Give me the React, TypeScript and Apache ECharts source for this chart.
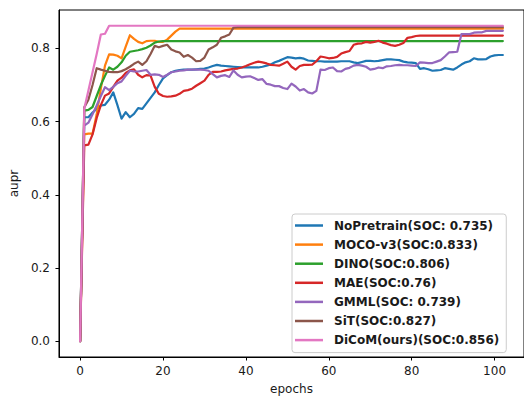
import React, { useEffect, useRef } from "react";
import * as echarts from "echarts";

const seriesNames = [
  "NoPretrain(SOC: 0.735)",
  "MOCO-v3(SOC:0.833)",
  "DINO(SOC:0.806)",
  "MAE(SOC:0.76)",
  "GMML(SOC: 0.739)",
  "SiT(SOC:0.827)",
  "DiCoM(ours)(SOC:0.856)",
];

const colors = ["#1f77b4", "#ff7f0e", "#2ca02c", "#d62728", "#9467bd", "#8c564b", "#e377c2"];

const xTicks = [0, 20, 40, 60, 80, 100];
const yTicks = [0, 0.2, 0.4, 0.6, 0.8];

const noPretrain = [
  0, 0.612, 0.612, 0.625, 0.635, 0.644, 0.646, 0.66, 0.68, 0.645,
  0.608, 0.626, 0.612, 0.621, 0.637, 0.635, 0.65, 0.665, 0.68, 0.7,
  0.718, 0.727, 0.735, 0.739, 0.741, 0.742, 0.742, 0.742, 0.743, 0.744,
  0.745, 0.748, 0.752, 0.755, 0.753, 0.752, 0.751, 0.75, 0.749, 0.748,
  0.748, 0.748, 0.748, 0.748, 0.75, 0.753, 0.756, 0.762, 0.766, 0.771,
  0.776, 0.775, 0.773, 0.774, 0.772, 0.767, 0.766, 0.765, 0.765, 0.764,
  0.764, 0.764, 0.764, 0.765, 0.765, 0.765, 0.762, 0.76, 0.763, 0.766,
  0.766, 0.765, 0.766, 0.768, 0.77, 0.77, 0.769, 0.768, 0.764, 0.762,
  0.761, 0.76, 0.744, 0.746, 0.743, 0.739, 0.74, 0.741, 0.746, 0.744,
  0.742, 0.748, 0.756, 0.762, 0.765, 0.773, 0.77, 0.77, 0.771, 0.778,
  0.781, 0.782, 0.782,
];

const mocoV3 = [
  0, 0.565, 0.567, 0.567, 0.62, 0.69, 0.753, 0.784, 0.783, 0.78,
  0.773, 0.805, 0.836, 0.826, 0.818, 0.814, 0.82, 0.821, 0.821, 0.818,
  0.818, 0.824, 0.835, 0.846, 0.854, 0.854, 0.854, 0.854, 0.854, 0.854,
  0.854, 0.854, 0.854, 0.854, 0.854, 0.854, 0.854, 0.854, 0.854, 0.854,
  0.854, 0.854, 0.854, 0.854, 0.854, 0.854, 0.854, 0.854, 0.854, 0.854,
  0.854, 0.854, 0.854, 0.854, 0.854, 0.854, 0.854, 0.854, 0.854, 0.854,
  0.854, 0.854, 0.854, 0.854, 0.854, 0.854, 0.854, 0.854, 0.854, 0.854,
  0.854, 0.854, 0.854, 0.854, 0.854, 0.854, 0.854, 0.854, 0.854, 0.854,
  0.854, 0.854, 0.854, 0.854, 0.854, 0.854, 0.854, 0.854, 0.854, 0.854,
  0.854, 0.854, 0.854, 0.854, 0.854, 0.854, 0.854, 0.854, 0.854, 0.854,
  0.854, 0.854, 0.854,
];

const dino = [
  0, 0.63, 0.632, 0.64, 0.67, 0.7, 0.725, 0.748, 0.742, 0.75,
  0.762, 0.78, 0.791, 0.793, 0.795, 0.798, 0.802, 0.808, 0.816, 0.819,
  0.82, 0.82, 0.82, 0.82, 0.82, 0.82, 0.82, 0.82, 0.82, 0.82,
  0.82, 0.82, 0.82, 0.82, 0.82, 0.82, 0.82, 0.82, 0.82, 0.82,
  0.82, 0.82, 0.82, 0.82, 0.82, 0.82, 0.82, 0.82, 0.82, 0.82,
  0.82, 0.82, 0.82, 0.82, 0.82, 0.82, 0.82, 0.82, 0.82, 0.82,
  0.82, 0.82, 0.82, 0.82, 0.82, 0.82, 0.82, 0.82, 0.82, 0.82,
  0.82, 0.82, 0.82, 0.82, 0.82, 0.82, 0.82, 0.82, 0.82, 0.82,
  0.82, 0.82, 0.82, 0.82, 0.82, 0.82, 0.82, 0.82, 0.82, 0.82,
  0.82, 0.82, 0.82, 0.82, 0.82, 0.82, 0.82, 0.82, 0.82, 0.82,
  0.82, 0.82, 0.82,
];

const mae = [
  0, 0.535, 0.537, 0.565, 0.61, 0.645, 0.671, 0.677, 0.695, 0.712,
  0.72, 0.733, 0.74, 0.743, 0.728, 0.721, 0.727, 0.726, 0.695, 0.676,
  0.67, 0.668, 0.669, 0.671, 0.676, 0.684, 0.686, 0.69, 0.698, 0.705,
  0.712, 0.728, 0.736, 0.736, 0.737, 0.74, 0.742, 0.744, 0.745, 0.748,
  0.752, 0.757, 0.761, 0.764, 0.762, 0.759, 0.755, 0.754, 0.753, 0.758,
  0.764, 0.75, 0.742, 0.752, 0.755, 0.755, 0.756, 0.765, 0.778, 0.776,
  0.773, 0.774, 0.777, 0.786, 0.79, 0.793, 0.81, 0.813, 0.814, 0.818,
  0.816, 0.818, 0.821, 0.816, 0.813, 0.809, 0.807, 0.81, 0.815, 0.829,
  0.831, 0.834, 0.835, 0.835, 0.835, 0.835, 0.835, 0.835, 0.835, 0.835,
  0.835, 0.835, 0.835, 0.835, 0.835, 0.835, 0.835, 0.835, 0.835, 0.835,
  0.835, 0.835, 0.835,
];

const gmml = [
  0, 0.589, 0.597, 0.62, 0.644, 0.67, 0.694, 0.686, 0.695, 0.705,
  0.71, 0.725, 0.739, 0.737, 0.737, 0.739, 0.741, 0.728, 0.729, 0.728,
  0.722, 0.728, 0.735, 0.737, 0.739, 0.74, 0.742, 0.742, 0.742, 0.742,
  0.741, 0.739, 0.73, 0.721, 0.725, 0.727, 0.722, 0.74, 0.728, 0.721,
  0.723, 0.724, 0.719, 0.714, 0.716, 0.703, 0.701, 0.697, 0.697, 0.692,
  0.689, 0.704, 0.696, 0.685, 0.689, 0.68, 0.677, 0.684, 0.742, 0.741,
  0.746, 0.748, 0.738, 0.737, 0.744, 0.747, 0.753, 0.755, 0.753, 0.75,
  0.742, 0.744, 0.748, 0.746, 0.751, 0.752, 0.754, 0.755, 0.754, 0.754,
  0.753, 0.752, 0.762, 0.761, 0.76, 0.76, 0.764, 0.768, 0.778, 0.789,
  0.79, 0.791, 0.839, 0.839, 0.839, 0.843, 0.844, 0.844, 0.848, 0.848,
  0.848, 0.848, 0.848,
];

const sit = [
  0, 0.639, 0.66, 0.7, 0.746, 0.742, 0.739, 0.736, 0.735, 0.735,
  0.738, 0.743, 0.75, 0.758, 0.764, 0.755, 0.765, 0.785, 0.807, 0.803,
  0.807, 0.81, 0.797, 0.792, 0.789, 0.777, 0.782, 0.775, 0.765, 0.766,
  0.775, 0.797, 0.803, 0.81, 0.829, 0.833, 0.838, 0.857, 0.858, 0.858,
  0.858, 0.858, 0.858, 0.858, 0.858, 0.858, 0.858, 0.858, 0.858, 0.858,
  0.858, 0.858, 0.858, 0.858, 0.858, 0.858, 0.858, 0.858, 0.858, 0.858,
  0.858, 0.858, 0.858, 0.858, 0.858, 0.858, 0.858, 0.858, 0.858, 0.858,
  0.858, 0.858, 0.858, 0.858, 0.858, 0.858, 0.858, 0.858, 0.858, 0.858,
  0.858, 0.858, 0.858, 0.858, 0.858, 0.858, 0.858, 0.858, 0.858, 0.858,
  0.858, 0.858, 0.858, 0.858, 0.858, 0.858, 0.858, 0.858, 0.858, 0.858,
  0.858, 0.858, 0.858,
];

const dicom = [
  0, 0.635, 0.685, 0.735, 0.785, 0.838, 0.84, 0.862, 0.862, 0.862,
  0.862, 0.862, 0.862, 0.862, 0.862, 0.862, 0.862, 0.862, 0.862, 0.862,
  0.862, 0.862, 0.862, 0.862, 0.862, 0.862, 0.862, 0.862, 0.862, 0.862,
  0.862, 0.862, 0.862, 0.862, 0.862, 0.862, 0.862, 0.862, 0.862, 0.862,
  0.862, 0.862, 0.862, 0.862, 0.862, 0.862, 0.862, 0.862, 0.862, 0.862,
  0.862, 0.862, 0.862, 0.862, 0.862, 0.862, 0.862, 0.862, 0.862, 0.862,
  0.862, 0.862, 0.862, 0.862, 0.862, 0.862, 0.862, 0.862, 0.862, 0.862,
  0.862, 0.862, 0.862, 0.862, 0.862, 0.862, 0.862, 0.862, 0.862, 0.862,
  0.862, 0.862, 0.862, 0.862, 0.862, 0.862, 0.862, 0.862, 0.862, 0.862,
  0.862, 0.862, 0.862, 0.862, 0.862, 0.862, 0.862, 0.862, 0.862, 0.862,
  0.862, 0.862, 0.862,
];

const allSeries = [noPretrain, mocoV3, dino, mae, gmml, sit, dicom];

export default function App() {
  const ref = useRef<HTMLDivElement>(null);

  useEffect(() => {
    if (!ref.current) return;
    const chart = echarts.init(ref.current, undefined, { renderer: "svg" });
    const font = "DejaVu Sans";
    const textColor = "#1a1a1a";
    const option = {
      animation: false,
      backgroundColor: "#ffffff",
      textStyle: { fontFamily: font },
      grid: {
        left: 57,
        top: 10,
        width: 468.3,
        height: 349,
        show: true,
        borderColor: "#000",
        borderWidth: 1,
        backgroundColor: "transparent",
      },
      xAxis: {
        type: "value",
        min: -5.1,
        max: 107.1,
        name: "epochs",
        nameLocation: "middle",
        nameGap: 26,
        nameTextStyle: { fontSize: 12, color: textColor, fontFamily: font },
        axisLine: { show: true, onZero: false, lineStyle: { color: "#000", width: 1 } },
        axisTick: { show: true, inside: false, length: 3.5, lineStyle: { color: "#000" }, customValues: xTicks },
        axisLabel: { customValues: xTicks, fontSize: 12, color: textColor, margin: 8, fontFamily: font },
        splitLine: { show: false },
      },
      yAxis: {
        type: "value",
        min: -0.0431,
        max: 0.905,
        name: "aupr",
        nameLocation: "middle",
        nameGap: 36,
        nameTextStyle: { fontSize: 12, color: textColor, fontFamily: font },
        axisLine: { show: true, onZero: false, lineStyle: { color: "#000", width: 1 } },
        axisTick: { show: true, inside: false, length: 3.5, lineStyle: { color: "#000" }, customValues: yTicks },
        axisLabel: {
          customValues: yTicks,
          fontSize: 12,
          color: textColor,
          margin: 9,
          fontFamily: font,
          formatter: (v: number) => v.toFixed(1),
        },
        splitLine: { show: false },
      },
      legend: {
        orient: "vertical",
        left: 292,
        top: 214,
        padding: [4, 7, 5, 3],
        itemWidth: 28,
        itemHeight: 2.5,
        itemGap: 4.1,
        icon: "rect",
        selectedMode: false,
        backgroundColor: "rgba(255,255,255,0.8)",
        borderColor: "#cccccc",
        borderWidth: 1,
        borderRadius: 3,
        textStyle: {
          fontSize: 12,
          fontWeight: "bold",
          color: textColor,
          fontFamily: font,
          lineHeight: 15,
          padding: [0, 0, 0, 6],
        },
        data: seriesNames,
      },
      series: allSeries.map((vals, i) => ({
        name: seriesNames[i],
        type: "line",
        data: vals.map((v, e) => [e, v]),
        showSymbol: false,
        symbol: "none",
        color: colors[i],
        lineStyle: { width: 2.2, color: colors[i], cap: "round", join: "round" },
        z: 2 + i,
      })),
    };
    chart.setOption(option as any);
    return () => chart.dispose();
  }, []);

  return (
    <div
      ref={ref}
      style={{ position: "fixed", left: 0, top: 0, width: 524, height: 400, background: "#fff" }}
    />
  );
}
